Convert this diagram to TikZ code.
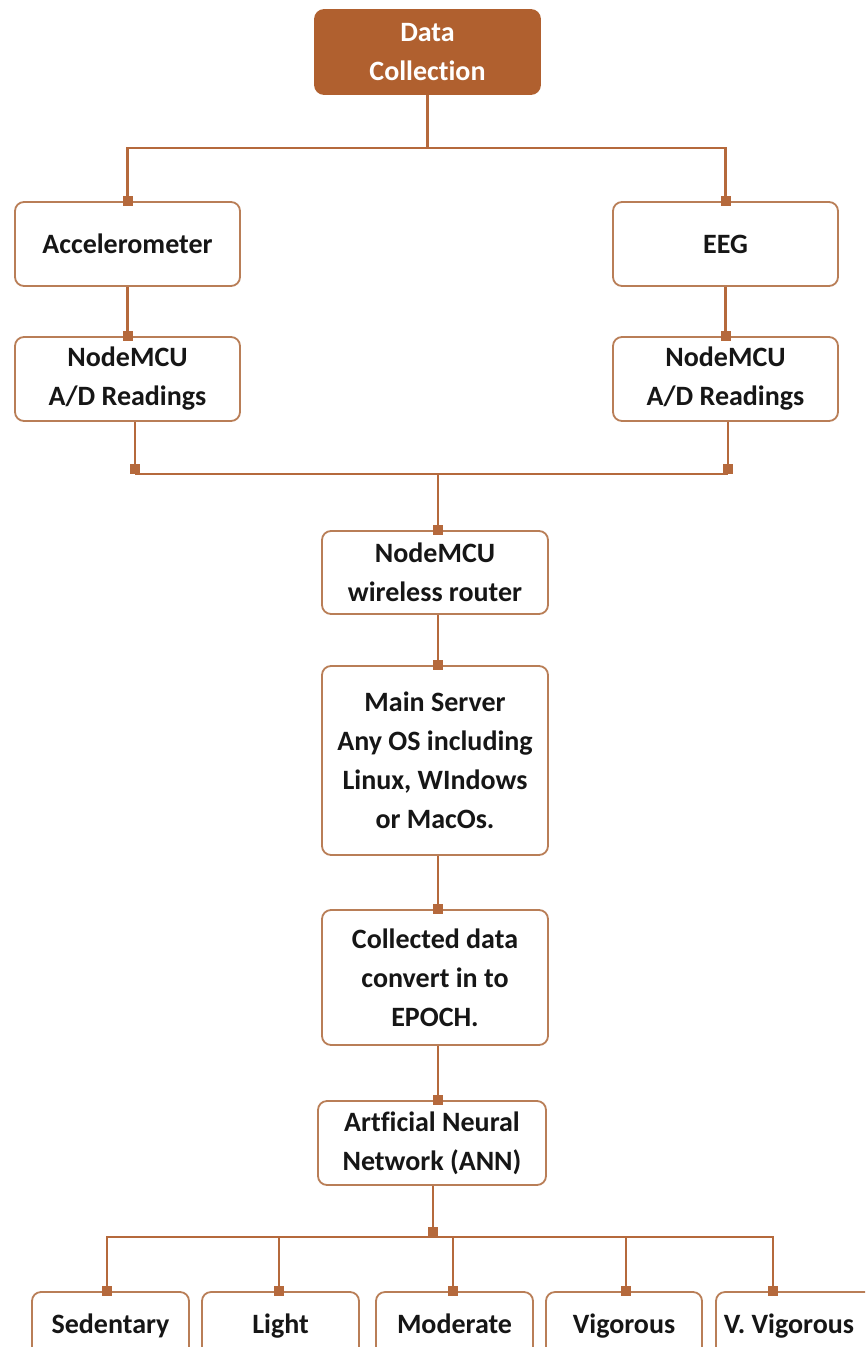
\documentclass[tikz,border=0pt]{standalone}
\usepackage{fontspec}
\setmainfont[Ligatures=NoCommon]{Carlito}
\usetikzlibrary{arrows.meta}
\definecolor{brn}{HTML}{B0602F}
\definecolor{lnc}{HTML}{B5693C}
\definecolor{bdc}{HTML}{B97E57}
\definecolor{txt}{HTML}{161616}
\tikzset{
  box/.style={draw=bdc, line width=1.8pt, rounded corners=9pt, fill=white,
    text=txt, font=\bfseries\fontsize{28}{39}\selectfont, align=center,
    inner sep=0pt},
  topbox/.style={box, fill=brn, draw=brn, text=white},
  lbl/.style={font=\bfseries\fontsize{28}{39}\selectfont, text=txt, anchor=base, inner sep=0pt},
  conn/.style={draw=lnc, line width=2.6pt},
  sq/.style={conn, -{Square[length=10pt,width=10pt]}, shorten >=-5pt},
  sqs/.style={conn, -{Square[length=10pt,width=10pt]}},
}
\begin{document}
\begin{tikzpicture}[x=1pt,y=-1pt]
\clip (0,0) rectangle (865,1347);
\fill[white] (0,0) rectangle (865,1347);
% nodes
\node[topbox, minimum width=225pt, minimum height=84pt] (dc) at (427.5,52) {Data\\Collection};
\node[box, minimum width=225pt, minimum height=84pt] (acc) at (127.5,244) {Accelerometer};
\node[box, minimum width=225pt, minimum height=84pt] (eeg) at (725.5,244) {EEG};
\node[box, minimum width=225pt, minimum height=84pt] (nl) at (127.5,379) {NodeMCU\\A/D Readings};
\node[box, minimum width=225pt, minimum height=84pt] (nr) at (725.5,379) {NodeMCU\\A/D Readings};
\node[box, minimum width=226pt, minimum height=83pt] (rt) at (435,572.5) {NodeMCU\\wireless router};
\node[box, minimum width=226pt, minimum height=189pt] (ms) at (435,760.5) {Main Server\\Any OS including\\Linux, WIndows\\or MacOs.};
\node[box, minimum width=226pt, minimum height=135pt] (cd) at (435,977.5) {Collected data\\convert in to\\EPOCH.};
\node[box, minimum width=228pt, minimum height=84pt] (ann) at (432,1143) {Artficial Neural\\Network (ANN)};
\node[box, minimum width=157pt, minimum height=64pt] (s1) at (110.5,1324) {};
\node[box, minimum width=157pt, minimum height=64pt] (s2) at (280.5,1324) {};
\node[box, minimum width=157pt, minimum height=64pt] (s3) at (454.5,1324) {};
\node[box, minimum width=156pt, minimum height=64pt] (s4) at (624,1324) {};
\node[box, minimum width=159pt, minimum height=64pt] (s5) at (795.5,1324) {};
\node[lbl] (t1) at (110.5,1333) {Sedentary};
\node[lbl] (t2) at (280.5,1333) {Light};
\node[lbl] (t3) at (454.5,1333) {Moderate};
\node[lbl] (t4) at (624,1333) {Vigorous};
\node[lbl] (t5) at (789,1333) {V. Vigorous};
% coordinates
\coordinate (c1) at (427.5,148);
\coordinate (jl) at (135,474);
\coordinate (jr) at (728,474);
\coordinate (jm) at (438,474);
\coordinate (jb) at (433,1237);
% connectors
\draw[conn] (dc.south) -- (c1);
\draw[sq] (c1) -| (acc.north);
\draw[sq] (c1) -| (eeg.north);
\draw[sq] (acc.south) -- (nl.north);
\draw[sq] (eeg.south) -- (nr.north);
\draw[sqs] (nl.south -| jl) -- (jl);
\draw[sqs] (nr.south -| jr) -- (jr);
\draw[conn] (jl) -- (jr);
\draw[sq] (jm) -- (rt.north -| jm);
\draw[sq] (rt.south -| jm) -- (ms.north -| jm);
\draw[sq] (ms.south -| jm) -- (cd.north -| jm);
\draw[sq] (cd.south -| jm) -- (ann.north -| jm);
\draw[sqs] (ann.south -| jb) -- (jb);
\draw[sq] (jb) -| ([xshift=-3.5pt]s1.north);
\draw[sq] (jb) -| ([xshift=-1.5pt]s2.north);
\draw[sq] (jb) -| ([xshift=-1.5pt]s3.north);
\draw[sq] (jb) -| ([xshift=2pt]s4.north);
\draw[sq] (jb) -| ([xshift=-22.5pt]s5.north);
\end{tikzpicture}
\end{document}
